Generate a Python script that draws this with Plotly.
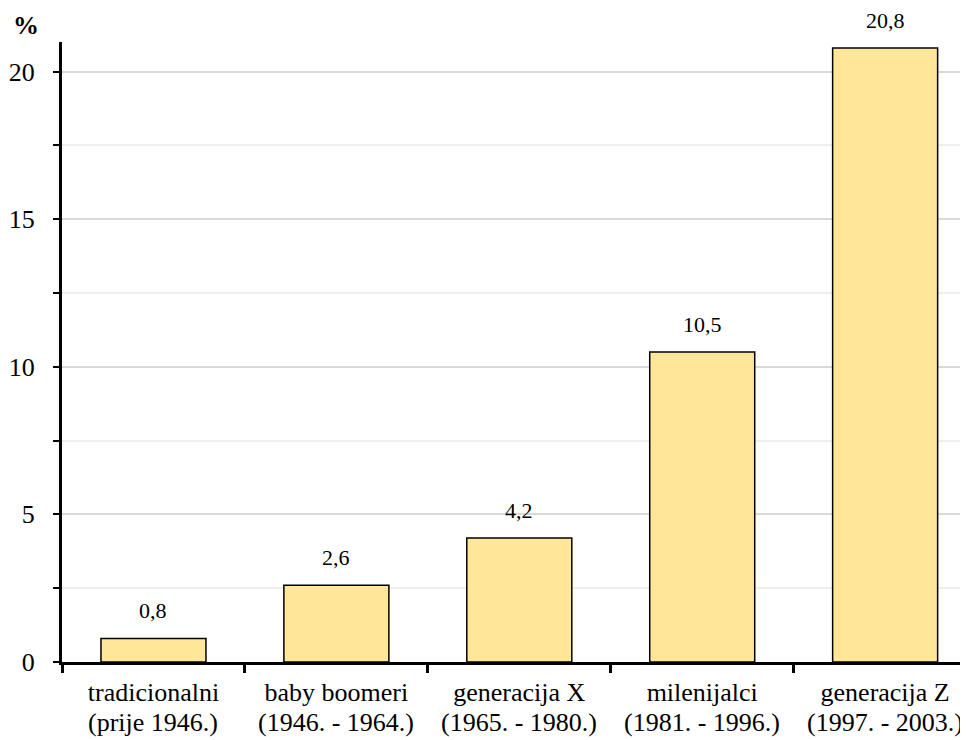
import plotly.graph_objects as go

gen_names = ["tradicionalni", "baby boomeri", "generacija X", "milenijalci", "generacija Z"]
gen_years = ["(prije 1946.)", "(1946. - 1964.)", "(1965. - 1980.)", "(1981. - 1996.)", "(1997. - 2003.)"]
values = [0.8, 2.6, 4.2, 10.5, 20.8]
y_ticks = [0, 5, 10, 15, 20]

FONT = "Liberation Serif"

fig = go.Figure(go.Bar(
    x=gen_names, y=values,
    marker=dict(color="#FFE699", line=dict(color="black", width=1.5)),
    width=0.574,
    customdata=gen_years,
    hovertemplate="%{x} %{customdata}: %{y}<extra></extra>",
))

annotations = [dict(x=c, y=v, xref="x", yref="y", text=f"{v:.1f}".replace(".", ","),
                    showarrow=False, xanchor="center", yanchor="bottom", yshift=13,
                    font=dict(family=FONT, size=22, color="black"))
               for c, v in zip(gen_names, values)]
annotations += [dict(x=c, y=0, xref="x", yref="y", text=yr,
                     showarrow=False, xanchor="center", yanchor="middle", yshift=-60,
                     font=dict(family=FONT, size=26, color="black"))
                for c, yr in zip(gen_names, gen_years)]
annotations.append(dict(text="<b>%</b>", xref="paper", yref="paper", x=-0.04, y=1.0,
                        xanchor="center", yanchor="bottom", showarrow=False,
                        font=dict(family=FONT, size=26, color="black"), yshift=0))

fig.update_layout(
    width=960, height=732,
    margin=dict(l=54, r=0, t=34, b=78),
    plot_bgcolor="white", paper_bgcolor="white",
    separators=",.",
    showlegend=False,
    font=dict(family=FONT, color="black"),
    annotations=annotations,
)
fig.update_xaxes(
    range=[-0.5, 4.453], showline=True, linecolor="black", linewidth=3,
    tickson="boundaries", ticks="outside", ticklen=8, tickwidth=3, tickcolor="black",
    tickfont=dict(family=FONT, size=26, color="black"), showgrid=False,
    ticklabelstandoff=5, automargin=False,
)
fig.update_yaxes(
    range=[0, 21], showline=True, linecolor="black", linewidth=3,
    tickvals=y_ticks, ticks="outside", ticklen=6, tickwidth=2, tickcolor="black",
    tickfont=dict(family=FONT, size=26, color="black"),
    showgrid=True, gridcolor="#d9d9d9", gridwidth=2, zeroline=False,
    ticklabelstandoff=13, automargin=False,
    minor=dict(dtick=2.5, tick0=0, showgrid=True, gridcolor="#efefef", gridwidth=2,
               ticks="outside", ticklen=6, tickwidth=2, tickcolor="black"),
)

fig.write_html("out.html")
